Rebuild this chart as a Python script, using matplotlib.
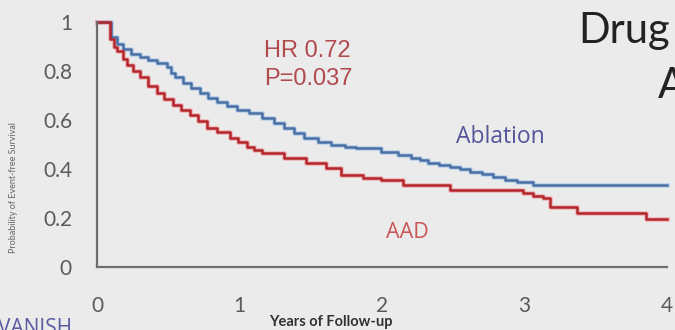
import matplotlib
matplotlib.use("Agg")
import matplotlib.pyplot as plt

# Kaplan-Meier step points (years, event-free survival)
abl_t = [0, 0.08, 0.10, 0.14, 0.18, 0.24, 0.30, 0.36, 0.42, 0.49, 0.52, 0.55,
         0.60, 0.66, 0.72, 0.78, 0.84, 0.91, 0.98, 1.07, 1.16, 1.24, 1.31, 1.38,
         1.45, 1.55, 1.64, 1.74, 1.82, 1.99, 2.11, 2.20, 2.27, 2.32, 2.40, 2.48,
         2.55, 2.62, 2.70, 2.78, 2.86, 2.95, 3.06, 4.0]
abl_s = [1.0, 1.0, 0.94, 0.91, 0.89, 0.87, 0.857, 0.845, 0.833, 0.816, 0.79, 0.776,
         0.751, 0.73, 0.71, 0.69, 0.673, 0.657, 0.641, 0.629, 0.608, 0.588, 0.567, 0.547,
         0.527, 0.51, 0.498, 0.49, 0.486, 0.469, 0.457, 0.445, 0.435, 0.424, 0.416, 0.408,
         0.398, 0.388, 0.378, 0.367, 0.357, 0.347, 0.335, 0.335]

aad_t = [0, 0.08, 0.09, 0.12, 0.14, 0.18, 0.21, 0.25, 0.30, 0.36, 0.42, 0.47,
         0.53, 0.59, 0.65, 0.71, 0.77, 0.84, 0.93, 0.99, 1.05, 1.10, 1.16, 1.31,
         1.47, 1.61, 1.71, 1.87, 1.99, 2.15, 2.48, 2.99, 3.06, 3.13, 3.18, 3.37,
         3.85, 4.0]
aad_s = [1.0, 1.0, 0.93, 0.90, 0.88, 0.85, 0.824, 0.80, 0.776, 0.74, 0.71, 0.685,
         0.661, 0.64, 0.62, 0.595, 0.567, 0.551, 0.527, 0.51, 0.49, 0.478, 0.465, 0.445,
         0.424, 0.404, 0.376, 0.363, 0.355, 0.335, 0.314, 0.302, 0.29, 0.282, 0.245, 0.222,
         0.196, 0.196]

x_ticks = [0, 1, 2, 3, 4]
y_ticks = [0, 0.2, 0.4, 0.6, 0.8, 1.0]
y_tick_labels = ["0", "0.2", "0.4", "0.6", "0.8", "1"]

bg = "#ebebeb"
fig = plt.figure(figsize=(6.75, 3.3), dpi=100, facecolor=bg)
ax = fig.add_axes([97 / 675, 63 / 330, 570 / 675, 245 / 330], facecolor=bg)

# soft halo under each curve, then the curve itself
ax.step(abl_t, abl_s, where="post", color="#a9c8e8", lw=3.6, alpha=0.6, clip_on=False)
ax.step(aad_t, aad_s, where="post", color="#f0a0a4", lw=3.6, alpha=0.6, clip_on=False)
ax.step(abl_t, abl_s, where="post", color="#4a6fa5", lw=1.8, clip_on=False)
ax.step(aad_t, aad_s, where="post", color="#b3262c", lw=1.8, clip_on=False)

ax.set_xlim(0, 4)
ax.set_ylim(0, 1)
ax.set_xticks(x_ticks)
ax.set_yticks(y_ticks)
ax.set_yticklabels(y_tick_labels)
ax.tick_params(length=0, labelsize=15, labelcolor="#5a5a5a")
ax.tick_params(axis="y", pad=18)
ax.tick_params(axis="x", pad=21)
for lab in ax.get_xticklabels() + ax.get_yticklabels():
    lab.set_fontfamily("Lato")

for side in ["top", "right"]:
    ax.spines[side].set_visible(False)
for side in ["left", "bottom"]:
    ax.spines[side].set_color("#6e6e6e")
    ax.spines[side].set_linewidth(1.6)

ax.text(1.17, 0.825, "HR 0.72\nP=0.037", color="#b04a4f", fontsize=17,
        family="Liberation Sans", linespacing=1.32, va="center", ha="left",
        multialignment="left")
ax.text(2.52, 0.53, "Ablation", color="#55559a", fontsize=16.5, family="Open Sans",
        va="center", ha="left")
ax.text(2.03, 0.14, "AAD", color="#c95556", fontsize=15.5, family="Open Sans",
        va="center", ha="left")

fig.text(331 / 675, 8 / 330, "Years of Follow-up", color="#333333", fontsize=10.5,
         family="Lato", weight="bold", ha="center", va="center")
fig.text(14 / 675, 142 / 330, "Probability of Event-free Survival", color="#666666",
         fontsize=6.5, family="Lato", rotation=90, ha="center", va="center")
fig.text(-0.003, 12 / 330, "VANISH", color="#5a5aa0", fontsize=15, family="Open Sans",
         ha="left", va="top")
fig.text(578 / 675, (330 - 43) / 330, "Drug", color="#222222", fontsize=30,
         family="Lato", ha="left", va="baseline")
fig.text(658 / 675, (330 - 98) / 330, "A", color="#222222", fontsize=30,
         family="Lato", ha="left", va="baseline")

fig.savefig("out.png", dpi=100, facecolor=bg)
